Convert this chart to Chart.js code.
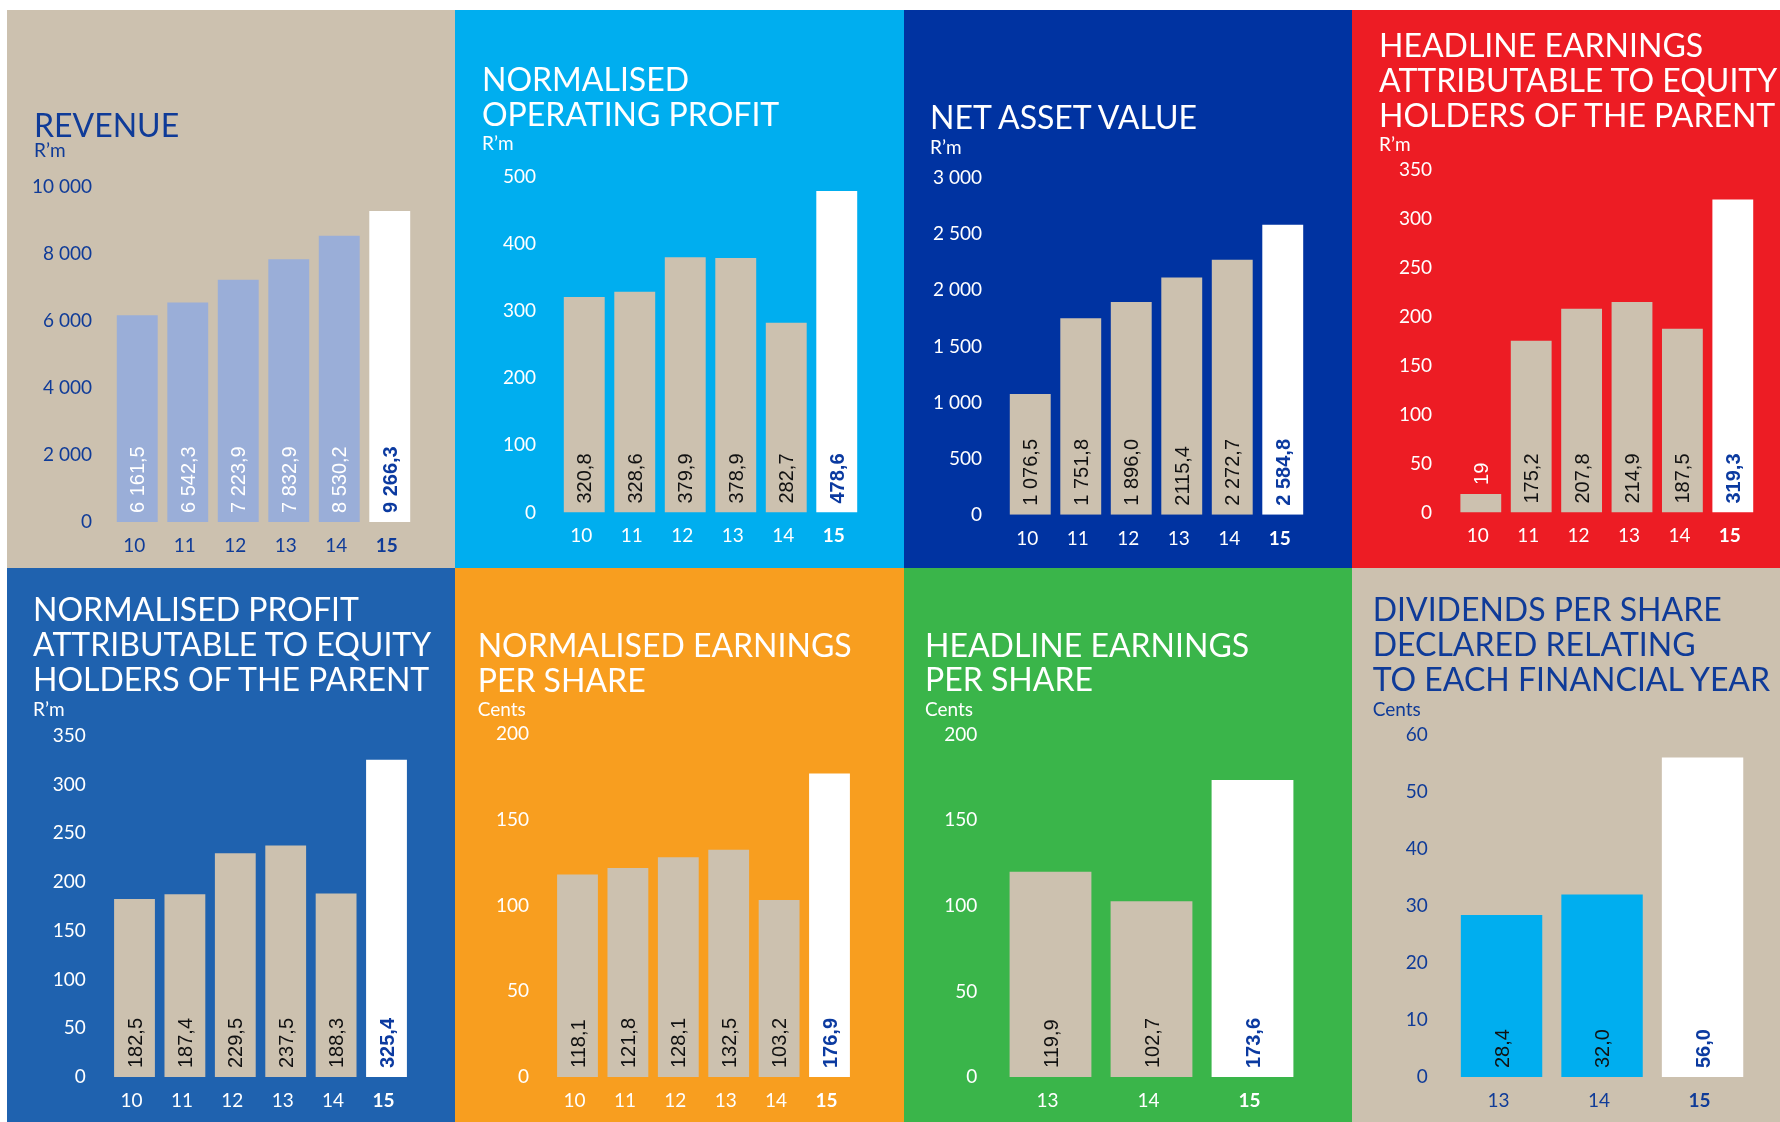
<!DOCTYPE html>
<html>
<head>
<meta charset="utf-8">
<script src="https://cdn.jsdelivr.net/npm/chart.js@4.4.1/dist/chart.umd.min.js"></script>
<style>
  body { margin: 0; background: #fff; width: 1780px; height: 1122px; overflow: hidden; position: relative; font-family: Lato, sans-serif; }
  .panel { position: absolute; overflow: hidden; }
  .panel canvas { position: absolute; left: 0; top: 0; }
  .title { position: absolute; font-size: 32px; line-height: 34.8px; white-space: nowrap; }
  .unit { position: absolute; font-size: 19px; line-height: 20px; white-space: nowrap; }
</style>
</head>
<body>
<script>
// ---- data ----
var years6 = ['10', '11', '12', '13', '14', '15'];
var years3 = ['13', '14', '15'];

var revenue = [6161.5, 6542.3, 7223.9, 7832.9, 8530.2, 9266.3];
var normOpProfit = [320.8, 328.6, 379.9, 378.9, 282.7, 478.6];
var netAssetValue = [1076.5, 1751.8, 1896.0, 2115.4, 2272.7, 2584.8];
var navLabels = ['1 076,5', '1 751,8', '1 896,0', '2115,4', '2 272,7', '2 584,8'];
var headlineEarnings = [19, 175.2, 207.8, 214.9, 187.5, 319.3];
var headlineLabels = ['19', '175,2', '207,8', '214,9', '187,5', '319,3'];
var normProfit = [182.5, 187.4, 229.5, 237.5, 188.3, 325.4];
var normEps = [118.1, 121.8, 128.1, 132.5, 103.2, 176.9];
var headlineEps = [119.9, 102.7, 173.6];
var dividends = [28.4, 32.0, 56.0];

var NAVY = '#0f3b98';
var BEIGE = '#ccc1af';

// 1 234,5 style
function fmt(v, dec) {
  var s = v.toFixed(dec).split('.');
  var int = s[0].replace(/\B(?=(\d{3})+(?!\d))/g, ' ');
  return s.length > 1 ? int + ',' + s[1] : int;
}

function barColors(n, c) {
  var out = [];
  for (var i = 0; i < n - 1; i++) out.push(c);
  out.push('#ffffff');
  return out;
}

// panels: position + chart area (local px)
var panels = [
  { x: 7, y: 10, w: 448, h: 558, bg: BEIGE, fg: NAVY, title: ['REVENUE'], titleTop: 97.6, titleLeft: 27,
    unit: 'R\u2019m', unitTop: 129.5, labels: years6, values: revenue, texts: revenue.map(function (v) { return fmt(v, 1); }),
    max: 10000, step: 2000, bar: '#9aaed8', textColor: '#ffffff',
    top: 176.5, bottom: 512, left: 105, right: 408, tickRight: 85, xLabel: 535.5 },
  { x: 455, y: 10, w: 449, h: 558, bg: '#00aeef', fg: '#ffffff', title: ['NORMALISED', 'OPERATING PROFIT'], titleTop: 52.3, titleLeft: 27,
    unit: 'R\u2019m', unitTop: 123, labels: years6, values: normOpProfit, texts: normOpProfit.map(function (v) { return fmt(v, 1); }),
    max: 500, step: 100, bar: BEIGE, textColor: '#111111',
    top: 166.7, bottom: 502.5, left: 104, right: 407, tickRight: 81, xLabel: 525.6 },
  { x: 904, y: 10, w: 448, h: 558, bg: '#0033a1', fg: '#ffffff', title: ['NET ASSET VALUE'], titleTop: 89.6, titleLeft: 26,
    unit: 'R\u2019m', unitTop: 126.5, labels: years6, values: netAssetValue, texts: navLabels,
    max: 3000, step: 500, bar: BEIGE, textColor: '#111111',
    top: 168.2, bottom: 504.7, left: 101, right: 404, tickRight: 78, xLabel: 528 },
  { x: 1352, y: 10, w: 428, h: 558, bg: '#ed1c24', fg: '#ffffff',
    title: ['HEADLINE EARNINGS', 'ATTRIBUTABLE TO EQUITY', 'HOLDERS OF THE PARENT'], titleTop: 18.1, titleLeft: 27,
    unit: 'R\u2019m', unitTop: 124, labels: years6, values: headlineEarnings, texts: headlineLabels,
    max: 350, step: 50, bar: BEIGE, textColor: '#111111',
    top: 159.5, bottom: 502.5, left: 103.6, right: 406, tickRight: 80, xLabel: 525.6 },
  { x: 7, y: 568, w: 448, h: 554, bg: '#1f62af', fg: '#ffffff',
    title: ['NORMALISED PROFIT', 'ATTRIBUTABLE TO EQUITY', 'HOLDERS OF THE PARENT'], titleTop: 24.1, titleLeft: 26,
    unit: 'R\u2019m', unitTop: 130.5, labels: years6, values: normProfit, texts: normProfit.map(function (v) { return fmt(v, 1); }),
    max: 350, step: 50, bar: BEIGE, textColor: '#111111',
    top: 167.8, bottom: 509, left: 102.3, right: 404.7, tickRight: 78.7, xLabel: 532.6 },
  { x: 455, y: 568, w: 449, h: 554, bg: '#f89e1f', fg: '#ffffff',
    title: ['NORMALISED EARNINGS', 'PER SHARE'], titleTop: 60, titleLeft: 22.7,
    unit: 'Cents', unitTop: 130.5, labels: years6, values: normEps, texts: normEps.map(function (v) { return fmt(v, 1); }),
    max: 200, step: 50, bar: BEIGE, textColor: '#111111',
    top: 166, bottom: 509, left: 97.3, right: 399.7, tickRight: 74, xLabel: 532 },
  { x: 904, y: 568, w: 448, h: 554, bg: '#3ab54a', fg: '#ffffff',
    title: ['HEADLINE EARNINGS', 'PER SHARE'], titleTop: 59.6, titleLeft: 21,
    unit: 'Cents', unitTop: 130.5, labels: years3, values: headlineEps, texts: headlineEps.map(function (v) { return fmt(v, 1); }),
    max: 200, step: 50, bar: BEIGE, textColor: '#111111',
    top: 166.8, bottom: 509, left: 96, right: 399, tickRight: 73.3, xLabel: 532.6 },
  { x: 1352, y: 568, w: 428, h: 554, bg: BEIGE, fg: NAVY,
    title: ['DIVIDENDS PER SHARE', 'DECLARED RELATING', 'TO EACH FINANCIAL YEAR'], titleTop: 24.1, titleLeft: 20.7,
    unit: 'Cents', unitTop: 130.5, labels: years3, values: dividends, texts: dividends.map(function (v) { return fmt(v, 1); }),
    max: 60, step: 10, bar: '#00aeef', textColor: '#111111',
    top: 166.8, bottom: 509, left: 99.3, right: 400.8, tickRight: 75.7, xLabel: 532 }
];

// rotated value text at the foot of each bar
var valueLabels = {
  id: 'valueLabels',
  afterDatasetsDraw: function (chart, args, opts) {
    var ctx = chart.ctx;
    var meta = chart.getDatasetMeta(0);
    meta.data.forEach(function (bar, i) {
      var last = i === meta.data.length - 1;
      var text = opts.texts[i];
      ctx.save();
      ctx.font = (last ? 'bold ' : '') + '20px "Liberation Sans", Arial, sans-serif';
      var len = ctx.measureText(text).width;
      var start = bar.base - 9;
      var color = last ? '#0b3aa0' : opts.color;
      if (bar.base - bar.y < len + 18) {
        start = bar.y - 9;
        color = '#ffffff';
      }
      ctx.translate(bar.x + 7, start);
      ctx.rotate(-Math.PI / 2);
      ctx.fillStyle = color;
      ctx.textAlign = 'left';
      ctx.textBaseline = 'alphabetic';
      ctx.fillText(text, 0, 0);
      ctx.restore();
    });
  }
};

panels.forEach(function (p) {
  var div = document.createElement('div');
  div.className = 'panel';
  div.style.cssText = 'left:' + p.x + 'px;top:' + p.y + 'px;width:' + p.w + 'px;height:' + p.h + 'px;background:' + p.bg + ';color:' + p.fg;
  document.body.appendChild(div);

  var canvas = document.createElement('canvas');
  canvas.width = p.w;
  canvas.height = p.h;
  canvas.style.width = p.w + 'px';
  canvas.style.height = p.h + 'px';
  div.appendChild(canvas);

  var t = document.createElement('div');
  t.className = 'title';
  t.style.left = p.titleLeft + 'px';
  t.style.top = p.titleTop + 'px';
  t.innerHTML = p.title.join('<br>');
  div.appendChild(t);

  var u = document.createElement('div');
  u.className = 'unit';
  u.style.left = p.titleLeft + 'px';
  u.style.top = p.unitTop + 'px';
  u.textContent = p.unit;
  div.appendChild(u);

  var n = p.values.length;
  new Chart(canvas, {
    type: 'bar',
    data: {
      labels: p.labels,
      datasets: [{
        data: p.values,
        backgroundColor: barColors(n, p.bar),
        borderWidth: 0,
        barPercentage: 0.81,
        categoryPercentage: 1
      }]
    },
    options: {
      responsive: false,
      animation: false,
      layout: { padding: { top: p.top, right: p.w - p.right, left: 0, bottom: 0 } },
      plugins: {
        legend: { display: false },
        tooltip: { enabled: false },
        valueLabels: { texts: p.texts, color: p.textColor }
      },
      scales: {
        x: {
          grid: { display: false, drawTicks: false },
          border: { display: false },
          ticks: {
            color: p.fg,
            padding: p.xLabel - p.bottom - 11,
            labelOffset: -3,
            maxRotation: 0,
            font: function (c) {
              return { family: 'Lato', size: 19, weight: c.index === n - 1 ? 'bold' : 'normal' };
            }
          },
          afterFit: function (s) { s.height = p.h - p.bottom; }
        },
        y: {
          min: 0,
          max: p.max,
          grid: { display: false, drawTicks: false },
          border: { display: false },
          ticks: {
            stepSize: p.step,
            color: p.fg,
            padding: p.left - p.tickRight,
            font: { family: 'Lato', size: 19 },
            callback: function (v) { return fmt(v, 0); }
          },
          afterFit: function (s) { s.width = p.left; }
        }
      }
    },
    plugins: [valueLabels]
  });
});
</script>
</body>
</html>
